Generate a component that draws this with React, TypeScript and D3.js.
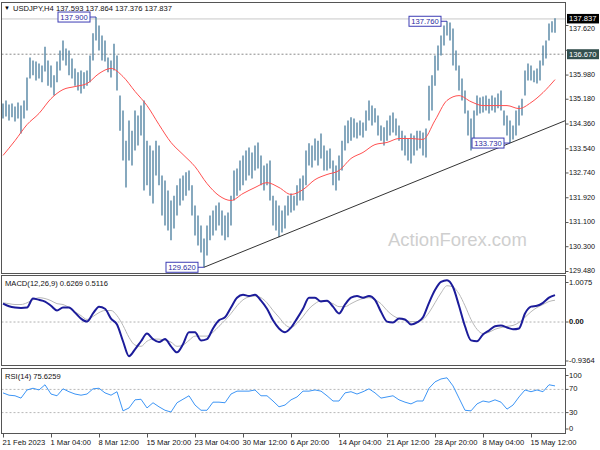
import React from 'react';
import * as d3 from 'd3';

const SYMBOL = 'USDJPY,H4';
const HEADER_OHLC = ['137.593', '137.864', '137.376', '137.837'];

// Price bars (each entry = one slot of two H4 bars)
const HIGHS = [
  135.04, 135.14, 135.01, 135.04, 134.94, 135.07, 134.97, 135.14, 135.90, 136.56,
  136.46, 136.43, 136.36, 136.30, 136.92, 136.46, 136.30, 135.97, 136.43, 136.79,
  137.12, 136.86, 136.79, 136.53, 136.20, 136.07, 136.13, 136.07, 136.13, 136.63,
  137.36, 137.90, 137.62, 137.29, 137.12, 136.56, 136.46, 137.02, 136.63, 135.30,
  134.81, 133.81, 134.48, 134.14, 134.81, 134.64, 134.97, 135.14, 133.81, 133.65,
  133.48, 133.81, 133.65, 132.66, 132.49, 132.16, 131.83, 131.99, 132.33, 132.56,
  132.66, 132.76, 132.82, 132.33, 131.66, 131.33, 131.00, 130.57, 131.00, 131.33,
  131.50, 131.66, 131.76, 131.50, 131.33, 131.43, 131.99, 132.82, 132.89, 133.15,
  133.32, 133.48, 133.58, 133.42, 133.65, 133.75, 133.32, 132.99, 133.05, 133.15,
  131.99, 131.83, 131.66, 131.50, 131.66, 131.99, 132.06, 131.99, 132.33, 132.56,
  132.66, 133.48, 133.72, 133.65, 133.88, 133.81, 134.05, 133.65, 133.48, 133.55,
  133.15, 132.99, 133.32, 133.81, 134.31, 134.48, 134.58, 134.54, 134.41, 134.48,
  134.41, 134.81, 135.14, 134.97, 134.88, 134.64, 134.31, 134.25, 134.48, 134.64,
  134.74, 134.54, 134.31, 134.14, 133.98, 133.88, 134.05, 133.98, 134.14, 134.14,
  134.08, 134.21, 135.63, 135.97, 136.63, 136.96, 137.29, 137.62, 137.76, 137.72,
  137.52, 136.79, 136.30, 135.87, 135.47, 134.81, 134.54, 134.81, 135.30, 135.24,
  135.27, 135.30, 135.20, 135.30, 135.24, 135.37, 135.47, 134.81, 134.64, 134.48,
  134.31, 134.81, 134.97, 135.20, 136.13, 136.36, 136.30, 136.13, 136.20, 136.46,
  136.96, 137.12, 137.69, 137.76, 137.86,
];
const LOWS = [
  134.54, 134.61, 134.48, 134.58, 134.44, 134.54, 134.05, 134.54, 134.81, 135.87,
  135.97, 135.80, 135.87, 135.74, 136.10, 135.63, 135.57, 135.30, 135.74, 136.13,
  136.46, 136.30, 135.97, 135.87, 135.63, 135.47, 135.37, 135.53, 135.63, 135.74,
  136.46, 137.12, 136.79, 136.46, 136.43, 136.07, 135.90, 136.13, 135.47, 134.14,
  133.15, 132.26, 133.15, 132.99, 133.48, 133.65, 133.98, 132.16, 132.33, 131.99,
  131.73, 132.66, 132.33, 131.33, 131.00, 130.84, 130.51, 130.90, 131.33, 131.66,
  131.83, 131.99, 132.16, 131.33, 130.67, 130.34, 130.11, 129.62, 130.01, 130.51,
  130.67, 130.84, 131.00, 130.67, 130.51, 130.61, 131.00, 131.83, 131.99, 132.16,
  132.33, 132.49, 132.66, 132.56, 132.82, 132.89, 132.33, 132.16, 132.33, 131.83,
  131.00, 130.84, 130.61, 130.77, 130.90, 131.33, 131.43, 131.50, 131.66, 131.83,
  131.83, 132.33, 132.99, 132.92, 133.15, 132.99, 133.22, 132.82, 132.82, 132.89,
  132.33, 132.16, 132.49, 132.82, 133.48, 133.72, 133.81, 133.91, 133.88, 133.98,
  133.91, 134.14, 134.48, 134.31, 134.41, 133.98, 133.81, 133.65, 133.81, 133.98,
  134.08, 133.98, 133.81, 133.48, 133.32, 133.15, 133.05, 133.32, 133.48, 133.55,
  133.32, 133.25, 134.48, 134.81, 135.63, 136.13, 136.63, 136.96, 137.29, 137.12,
  136.30, 136.13, 135.47, 135.14, 134.71, 133.98, 133.48, 133.81, 134.64, 134.71,
  134.74, 134.81, 134.71, 134.81, 134.74, 134.88, 134.81, 134.31, 133.98, 133.73,
  133.85, 133.98, 134.31, 134.64, 135.30, 135.80, 135.80, 135.74, 135.70, 135.80,
  136.30, 136.53, 137.12, 137.39, 137.38,
];

// Moving average (red), one value every MA_STEP slots
const MA_STEP = 4;
const MA = [
  133.32, 133.81, 134.34, 134.71, 135.20, 135.50, 135.60, 135.70, 136.03, 136.20,
  135.93, 135.44, 134.97, 134.34, 133.75, 133.35, 132.95, 132.39, 131.99, 131.83,
  132.06, 132.26, 132.42, 132.26, 132.03, 132.19, 132.52, 132.69, 132.82, 133.22,
  133.42, 133.68, 133.75, 133.88, 133.88, 133.85, 134.48, 135.14, 135.30, 135.10,
  134.97, 134.97, 134.97, 134.87, 135.07, 135.40, 135.83,
];

// Indicators, one value every IND_STEP slots
const IND_STEP = 2;
const MACD_MAIN = [
  0.43, 0.37, 0.34, 0.33, 0.34, 0.55, 0.52, 0.48, 0.38, 0.27,
  0.34, 0.34, 0.22, 0.08, 0.01, 0.20, 0.36, 0.31, 0.08, -0.06,
  -0.45, -0.80, -0.64, -0.45, -0.27, -0.40, -0.47, -0.40, -0.57, -0.71,
  -0.52, -0.24, -0.24, -0.43, -0.40, -0.15, 0.04, 0.11, 0.34, 0.57,
  0.64, 0.61, 0.64, 0.50, 0.31, 0.04, -0.15, -0.24, -0.13, 0.08,
  0.31, 0.57, 0.57, 0.48, 0.50, 0.36, 0.20, 0.41, 0.57, 0.61,
  0.57, 0.61, 0.52, 0.24, 0.01, -0.01, 0.08, 0.06, -0.06, -0.01,
  0.11, 0.45, 0.75, 0.94, 0.98, 0.82, 0.38, -0.10, -0.43, -0.45,
  -0.29, -0.20, -0.10, -0.08, -0.13, -0.17, -0.15, 0.20, 0.36, 0.38,
  0.45, 0.57, 0.63,
];
const MACD_SIGNAL = [
  0.45, 0.43, 0.41, 0.41, 0.45, 0.52, 0.57, 0.55, 0.50, 0.43,
  0.41, 0.34, 0.24, 0.15, 0.06, 0.13, 0.22, 0.27, 0.27, 0.15,
  -0.08, -0.36, -0.54, -0.57, -0.45, -0.40, -0.40, -0.43, -0.47, -0.57,
  -0.54, -0.43, -0.33, -0.33, -0.33, -0.24, -0.10, 0.04, 0.20, 0.38,
  0.52, 0.59, 0.61, 0.57, 0.45, 0.27, 0.11, -0.06, -0.13, -0.03,
  0.13, 0.31, 0.43, 0.50, 0.48, 0.43, 0.36, 0.36, 0.43, 0.50,
  0.55, 0.57, 0.52, 0.43, 0.27, 0.15, 0.08, 0.04, 0.01, 0.01,
  0.06, 0.22, 0.45, 0.68, 0.85, 0.82, 0.66, 0.38, 0.06, -0.17,
  -0.27, -0.24, -0.17, -0.13, -0.10, -0.08, -0.01, 0.11, 0.24, 0.34,
  0.41, 0.48, 0.51,
];
const RSI = [
  64, 60, 59, 55, 69, 72, 69, 78, 62, 59,
  71, 66, 62, 60, 62, 71, 72, 64, 60, 66,
  33, 38, 52, 53, 38, 47, 40, 34, 31, 47,
  53, 59, 43, 34, 34, 48, 48, 47, 62, 67,
  67, 67, 69, 59, 59, 50, 40, 43, 52, 57,
  67, 67, 69, 67, 59, 50, 50, 64, 66, 62,
  66, 71, 64, 55, 57, 59, 52, 48, 45, 50,
  50, 72, 83, 88, 90, 76, 55, 34, 33, 45,
  50, 48, 52, 48, 36, 43, 57, 69, 66, 69,
  66, 78, 76,
];

const PRICE_TICKS = ['137.620', '136.800', '135.980', '135.180', '134.360', '133.540', '132.740', '131.920', '131.100', '130.300', '129.480'];
const TIME_LABELS = ['21 Feb 2023', '1 Mar 04:00', '8 Mar 12:00', '15 Mar 20:00', '23 Mar 04:00', '30 Mar 12:00', '6 Apr 20:00', '14 Apr 04:00', '21 Apr 12:00', '28 Apr 20:00', '8 May 04:00', '15 May 12:00'];
const TIME_STEP = 16;
const LAST_PRICE = 137.837;
const LEVEL_PRICE = 136.67;
const EXTREMES = [
  { slot: 31, price: 137.9, label: '137.900' },
  { slot: 67, price: 129.62, label: '129.620' },
  { slot: 148, price: 137.76, label: '137.760' },
  { slot: 169, price: 133.73, label: '133.730' },
];
const TREND_POINTS = [
  { slot: 67, price: 129.62 },
  { slot: 169, price: 133.73 },
];
const MACD_TITLE = 'MACD(12,26,9) 0.6269 0.5116';
const MACD_TICKS = [1.0075, 0, -0.9364];
const MACD_TICK_LABELS = ['1.0075', '0.00', '-0.9364'];
const RSI_TITLE = 'RSI(14) 75.6259';
const RSI_TICKS = [100, 70, 30, 0];
const RSI_LEVELS = [70, 30];
const WATERMARK = 'ActionForex.com';

const FONT = 'Liberation Sans, Arial, sans-serif';
const FS = 7.6;

export default function App() {
  const L = 1.5, R = 565.5;
  const main = { top: 2.5, bottom: 273.5 };
  const macdP = { top: 275.5, bottom: 365.5 };
  const rsiP = { top: 368.5, bottom: 433.5 };

  const x = d3.scaleLinear().domain([0, HIGHS.length - 1]).range([3, 555]);
  const y = d3.scaleLinear().domain([129.48, 137.62]).range([271.5, 25.5]);
  const ym = d3.scaleLinear().domain([-0.9364, 1.0075]).range([362, 279]);
  const yr = d3.scaleLinear().domain([0, 100]).range([430, 372]);

  const maLine = d3.line<number>().x((_, i) => x(i * MA_STEP)).y((d) => y(d)).curve(d3.curveMonotoneX);
  const macdLine = d3.line<number>().x((_, i) => x(i * IND_STEP)).y((d) => ym(d)).curve(d3.curveMonotoneX);
  const rsiLine = d3.line<number>().x((_, i) => x(i * IND_STEP)).y((d) => yr(d)).curve(d3.curveLinear);

  const t0 = TREND_POINTS[0], t1 = TREND_POINTS[1];
  const slope = (t1.price - t0.price) / (t1.slot - t0.slot);
  const endSlot = x.invert(R);
  const trendEnd = t0.price + slope * (endSlot - t0.slot);

  const clampLabel = (v: number, top: number, bottom: number) => Math.min(Math.max(v, top + 7), bottom - 4.5);
  const boxYs = [y(LEVEL_PRICE), y(LAST_PRICE)];
  const nearBox = (ty: number) => boxYs.some((by) => Math.abs(by - ty) < 9);

  return (
    <div style={{ position: 'fixed', left: 0, top: 0 }}>
      <svg width={600} height={450} style={{ display: 'block', background: '#fff' }} fontFamily={FONT}>
        <rect x={0} y={0} width={600} height={450} fill="#fff" />
        <defs>
          <clipPath id="mainClip"><rect x={L} y={main.top} width={R - L} height={main.bottom - main.top} /></clipPath>
          <clipPath id="macdClip"><rect x={L} y={macdP.top} width={R - L} height={macdP.bottom - macdP.top} /></clipPath>
          <clipPath id="rsiClip"><rect x={L} y={rsiP.top} width={R - L} height={rsiP.bottom - rsiP.top} /></clipPath>
        </defs>

        {/* watermark */}
        <text x={388} y={246} fontSize={18.5} fill="#cfcfcf" fontFamily={FONT}>{WATERMARK}</text>

        {/* main panel */}
        <g clipPath="url(#mainClip)">
          <line x1={L} x2={R} y1={y(LAST_PRICE)} y2={y(LAST_PRICE)} stroke="#c8c8c8" strokeWidth={1} />
          <line x1={L} x2={R} y1={y(LEVEL_PRICE)} y2={y(LEVEL_PRICE)} stroke="#8a8a8a" strokeWidth={1} strokeDasharray="2,2" />
          {HIGHS.map((h, i) => (
            <line key={i} x1={x(i)} x2={x(i)} y1={y(h)} y2={y(LOWS[i])} stroke="#5384a3" strokeWidth={1.4} />
          ))}
          <path d={maLine(MA) || ''} fill="none" stroke="#ff5050" strokeWidth={1} />
          <line x1={x(t0.slot)} y1={y(t0.price)} x2={R} y2={y(trendEnd)} stroke="#333" strokeWidth={1} />
        </g>

        {/* extreme labels */}
        {EXTREMES.map((e) => {
          const bx = x(e.slot);
          const cy = y(e.price);
          const w = 32, h = 10;
          const rx = bx - 6;
          return (
            <g key={e.label}>
              <line x1={rx} x2={bx} y1={cy} y2={cy} stroke="#3c3cb4" strokeWidth={1} />
              <rect x={rx - w} y={cy - h / 2} width={w} height={h} fill="#fff" stroke="#3c3cb4" strokeWidth={1} />
              <text x={rx - w / 2} y={cy + 0.5} textAnchor="middle" dominantBaseline="middle" fontSize={FS} fill="#2a2aa0">{e.label}</text>
            </g>
          );
        })}

        {/* headers */}
        <text x={4} y={10} fontSize={6} fill="#000">▼</text>
        <text x={13} y={10.5} fontSize={FS} fill="#111">{SYMBOL + ' ' + HEADER_OHLC.join(' ')}</text>

        {/* MACD panel */}
        <g clipPath="url(#macdClip)">
          <line x1={L} x2={R} y1={ym(0)} y2={ym(0)} stroke="#b0b0b0" strokeWidth={1} strokeDasharray="2,2" />
          <path d={macdLine(MACD_SIGNAL) || ''} fill="none" stroke="#b8b8b8" strokeWidth={1} />
          <path d={macdLine(MACD_MAIN) || ''} fill="none" stroke="#1c1c9a" strokeWidth={2} />
        </g>
        <text x={5} y={286} fontSize={FS} fill="#111">{MACD_TITLE}</text>

        {/* RSI panel */}
        <g clipPath="url(#rsiClip)">
          {RSI_LEVELS.map((lv) => (
            <line key={lv} x1={L} x2={R} y1={yr(lv)} y2={yr(lv)} stroke="#b8b8b8" strokeWidth={1} strokeDasharray="2,2" />
          ))}
          <path d={rsiLine(RSI) || ''} fill="none" stroke="#3d95f5" strokeWidth={1} />
        </g>
        <text x={5} y={379} fontSize={FS} fill="#111">{RSI_TITLE}</text>

        {/* frames */}
        {[main, macdP, rsiP].map((p, i) => (
          <rect key={i} x={L} y={p.top} width={R - L} height={p.bottom - p.top} fill="none" stroke="#555" strokeWidth={1} />
        ))}

        {/* price axis */}
        {PRICE_TICKS.map((t) => {
          const ty = y(+t);
          const hidden = Math.abs(y(LEVEL_PRICE) - ty) < 6;
          const shifted = !hidden && nearBox(ty) ? ty + 3.5 : ty;
          return (
            <g key={t}>
              <line x1={R} x2={R + 3} y1={ty} y2={ty} stroke="#555" />
              {!hidden && (
                <text x={569} y={shifted} dominantBaseline="middle" fontSize={7.2} fill="#111">{t}</text>
              )}
            </g>
          );
        })}
        <g>
          <rect x={567} y={y(LEVEL_PRICE) - 5} width={32} height={10} fill="#34504f" />
          <text x={569} y={y(LEVEL_PRICE) + 0.5} dominantBaseline="middle" fontSize={FS} fill="#fff">{LEVEL_PRICE.toFixed(3)}</text>
        </g>
        <g>
          <rect x={567} y={y(LAST_PRICE) - 5} width={32} height={9.5} fill="#000" />
          <text x={569} y={y(LAST_PRICE) + 0.2} dominantBaseline="middle" fontSize={FS} fill="#fff">{LAST_PRICE.toFixed(3)}</text>
        </g>

        {/* MACD axis */}
        {MACD_TICKS.map((t, i) => {
          const ty = clampLabel(ym(t), macdP.top, macdP.bottom);
          return (
            <g key={i}>
              <line x1={R} x2={R + 3} y1={ty} y2={ty} stroke="#555" />
              <text x={569} y={ty} dominantBaseline="middle" fontSize={FS} fill="#111" fontWeight={t === 0 ? 'bold' : 'normal'}>{MACD_TICK_LABELS[i]}</text>
            </g>
          );
        })}

        {/* RSI axis */}
        {RSI_TICKS.map((t) => {
          const ty = clampLabel(yr(t), rsiP.top, rsiP.bottom);
          return (
            <g key={t}>
              <line x1={R} x2={R + 3} y1={ty} y2={ty} stroke="#555" />
              <text x={569} y={ty} dominantBaseline="middle" fontSize={FS} fill="#111">{t}</text>
            </g>
          );
        })}

        {/* time axis */}
        {TIME_LABELS.map((lab, i) => {
          const tx = Math.round(x(i * TIME_STEP)) + 0.5;
          return (
            <g key={lab}>
              <line x1={tx} x2={tx} y1={rsiP.bottom} y2={rsiP.bottom + 4} stroke="#555" />
              <text x={tx - 1} y={445} fontSize={FS} fill="#111">{lab}</text>
            </g>
          );
        })}
      </svg>
    </div>
  );
}
